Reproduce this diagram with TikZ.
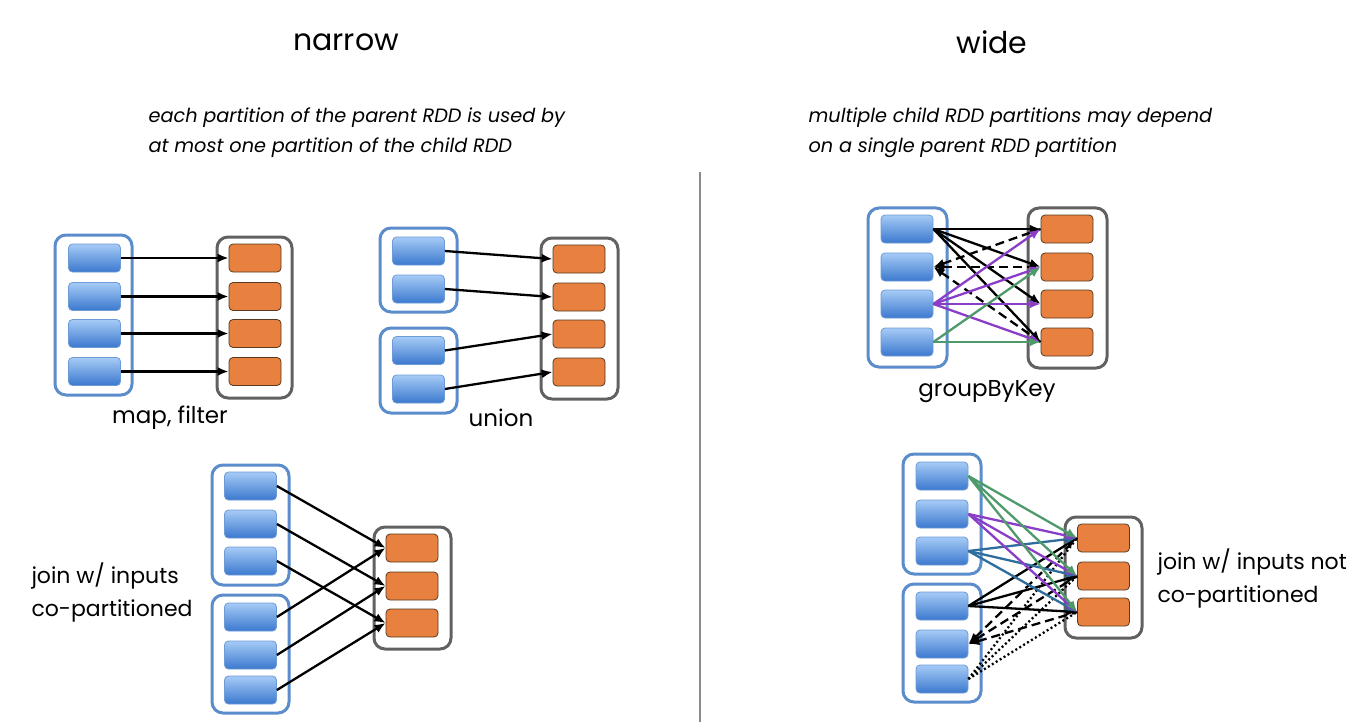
\documentclass[tikz,border=0pt]{standalone}
\usepackage{fontspec}
\setmainfont{Poppins}
\usetikzlibrary{arrows.meta}
\definecolor{bluetop}{HTML}{A6CBF6}
\definecolor{bluebot}{HTML}{3B78CE}
\definecolor{bluebd}{HTML}{6C9BD6}
\definecolor{bluecont}{HTML}{5B8CCB}
\definecolor{orangefill}{HTML}{E8813F}
\definecolor{orangebd}{HTML}{5A3A1E}
\definecolor{graycont}{HTML}{616161}
\definecolor{purp}{HTML}{8A3EC8}
\definecolor{grn}{HTML}{4E9A6B}
\definecolor{bln}{HTML}{2F6D9C}
\definecolor{divider}{HTML}{8A8A8A}
\tikzset{
  bpart/.style={rectangle, rounded corners=4pt, minimum width=52pt, minimum height=28pt, inner sep=0pt, draw=bluebd, line width=0.8pt, top color=bluetop, bottom color=bluebot},
  opart/.style={rectangle, rounded corners=4pt, minimum width=52pt, minimum height=28pt, inner sep=0pt, draw=orangebd, line width=0.8pt, fill=orangefill},
  pbox/.style={rectangle, draw=bluecont, line width=3pt, rounded corners=11pt, fill=white, inner sep=0pt},
  cbox/.style={rectangle, draw=graycont, line width=3pt, rounded corners=11pt, fill=white, inner sep=0pt},
  dep/.style={-{Latex[length=11pt,width=9pt]}, line width=2.3pt},
  rdep/.style={{Latex[length=11pt,width=9pt]}-, line width=2.3pt, dash pattern=on 9pt off 5pt},
  dotdep/.style={line width=2.3pt, dash pattern=on 2pt off 2.6pt},
  title/.style={font=\fontsize{30}{34}\selectfont},
  sub/.style={font=\itshape\fontsize{19.3}{30}\selectfont, align=left, anchor=west},
  lbl/.style={font=\fontsize{23}{33}\selectfont, align=left},
  jlbl/.style={font=\fontsize{22}{33}\selectfont, align=left, anchor=west},
}
\begin{document}
\begin{tikzpicture}[x=1pt,y=-1pt]
\useasboundingbox (0,0) rectangle (1362,722);
\fill[white] (0,0) rectangle (1362,722);

% titles
\node[title] (tnarrow) at (346,42) {narrow};
\node[title] (twide) at (992,42) {wide};
\node[sub] (snarrow) at (145,133) {each partition of the parent RDD is used by\\at most one partition of the child RDD};
\node[sub] (swide) at (805,133) {multiple child RDD partitions may depend\\on a single parent RDD partition};

% divider
\draw[divider, line width=1.8pt] (700,172) -- (700,722);

% ---------- map, filter ----------
\node[pbox, minimum width=77pt, minimum height=160pt] (mfP) at (93.5,315) {};
\node[cbox, minimum width=75pt, minimum height=161pt] (mfC) at (254.5,317.5) {};
\foreach \i/\y in {1/258,2/296.5,3/333.5,4/371.5}{
  \node[bpart] (mfb\i) at (94.5,\y) {};
  \node[opart] (mfo\i) at (255,\y) {};
  \draw[dep] (mfb\i.east) -- (mfo\i.west);
}
\node[lbl] (lmf) at (170,418) {map, filter};

% ---------- union ----------
\node[pbox, minimum width=77pt, minimum height=84pt] (unP1) at (418.5,270) {};
\node[pbox, minimum width=77pt, minimum height=85pt] (unP2) at (418.5,370.5) {};
\node[cbox, minimum width=77pt, minimum height=161pt] (unC) at (579.5,318.5) {};
\node[bpart] (unb1) at (418.5,251) {};
\node[bpart] (unb2) at (418.5,289) {};
\node[bpart] (unb3) at (418.5,350.5) {};
\node[bpart] (unb4) at (418.5,389) {};
\foreach \i/\y in {1/259,2/297,3/334,4/372}{
  \node[opart] (uno\i) at (579,\y) {};
  \draw[dep] (unb\i.east) -- (uno\i.west);
}
\node[lbl] (lun) at (501,418) {union};

% ---------- groupByKey ----------
\node[pbox, minimum width=79pt, minimum height=159pt] (gbP) at (907.5,287.5) {};
\node[cbox, minimum width=79pt, minimum height=160pt] (gbC) at (1067.5,288) {};
\foreach \i/\y in {1/229,2/267,3/304,4/342}{
  \node[bpart] (gbb\i) at (907,\y) {};
  \node[opart] (gbo\i) at (1067,\y) {};
}
\foreach \j in {1,2,3,4}{ \draw[dep] (gbb1.east) -- (gbo\j.west); }
\foreach \j in {1,2,4}{ \draw[rdep] (gbb2.east) -- (gbo\j.west); }
\foreach \j in {1,2,3,4}{ \draw[dep, purp] (gbb3.east) -- (gbo\j.west); }
\foreach \j in {2,4}{ \draw[dep, grn] (gbb4.east) -- (gbo\j.west); }
\node[lbl] (lgb) at (987,392) {groupByKey};

% ---------- join co-partitioned ----------
\node[pbox, minimum width=77pt, minimum height=120pt] (jcP1) at (250.5,525) {};
\node[pbox, minimum width=77pt, minimum height=118pt] (jcP2) at (250.5,654) {};
\node[cbox, minimum width=77pt, minimum height=122pt] (jcC) at (412.5,588) {};
\foreach \i/\y in {1/486,2/524,3/561,4/617,5/655,6/690}{
  \node[bpart] (jcb\i) at (250.5,\y) {};
}
\foreach \i/\y in {1/548,2/586,3/623}{
  \node[opart] (jco\i) at (412,\y) {};
}
\draw[dep] (jcb1.east) -- (jco1.west);
\draw[dep] (jcb2.east) -- (jco2.west);
\draw[dep] (jcb3.east) -- (jco3.west);
\draw[dep] (jcb4.east) -- (jco1.west);
\draw[dep] (jcb5.east) -- (jco2.west);
\draw[dep] (jcb6.east) -- (jco3.west);
\node[jlbl] (ljc) at (28,592) {join w/ inputs\\co-partitioned};

% ---------- join not co-partitioned ----------
\node[pbox, minimum width=78pt, minimum height=120pt] (jnP1) at (942,514) {};
\node[pbox, minimum width=78pt, minimum height=118pt] (jnP2) at (942,643) {};
\node[cbox, minimum width=77pt, minimum height=121pt] (jnC) at (1103.5,577.5) {};
\foreach \i/\y in {1/476,2/514,3/551,4/606,5/644,6/679}{
  \node[bpart] (jnb\i) at (942,\y) {};
}
\foreach \i/\y in {1/538,2/576,3/612}{
  \node[opart] (jno\i) at (1103.5,\y) {};
}
\foreach \j in {1,2,3}{
  \draw[dotdep] (jnb6.east) -- (jno\j.west);
  \draw[rdep] (jnb5.east) -- (jno\j.west);
  \draw[dep] (jnb4.east) -- (jno\j.west);
  \draw[dep, bln] (jnb3.east) -- (jno\j.west);
  \draw[dep, purp] (jnb2.east) -- (jno\j.west);
  \draw[dep, grn] (jnb1.east) -- (jno\j.west);
}
\node[jlbl] (ljn) at (1154,578) {join w/ inputs not\\co-partitioned};
\end{tikzpicture}
\end{document}
